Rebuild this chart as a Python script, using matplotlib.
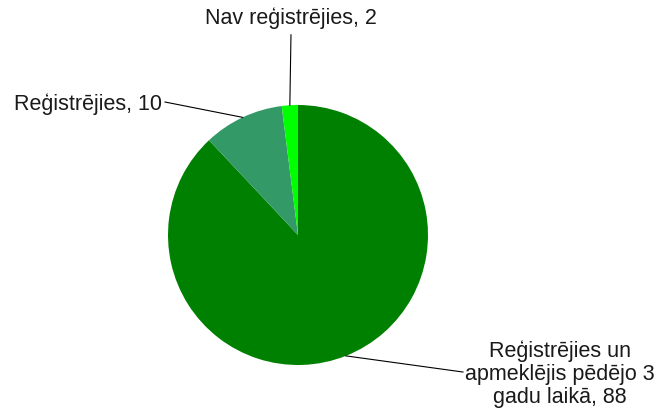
import numpy as np
import matplotlib.pyplot as plt

plt.rcParams['font.family'] = ['Liberation Sans', 'DejaVu Sans']

kategorijas = ['Reģistrējies un\napmeklējis pēdējo 3\ngadu laikā', 'Reģistrējies', 'Nav reģistrējies']
vertibas = [88, 10, 2]
krasas = ['#008000', '#339966', '#00FF00']

fig = plt.figure(figsize=(6.59, 4.16), dpi=100)
ax = fig.add_axes([168 / 659, 51 / 416, 260 / 659, 260 / 416])

wedges, _ = ax.pie(vertibas, colors=krasas, startangle=90, counterclock=False,
                   radius=1, wedgeprops=dict(linewidth=0))
ax.set_xlim(-1, 1)
ax.set_ylim(-1, 1)
ax.set_aspect('equal')
ax.axis('off')

# līniju gali un tekstu novietojums (datu vienībās)
linijas_gals = [(1.269, -1.054), (-1.023, 1.023), (-0.054, 1.54)]
teksta_vieta = [(2.015, -1.07), (-1.046, 1.008), (-0.054, 1.669)]
izlidzinasana = [('center', 'center'), ('right', 'center'), ('center', 'center')]

for w, nos, v, gals, tv, (ha, va) in zip(wedges, kategorijas, vertibas,
                                         linijas_gals, teksta_vieta, izlidzinasana):
    ang = np.deg2rad((w.theta1 + w.theta2) / 2)
    x, y = np.cos(ang), np.sin(ang)
    ax.plot([x, gals[0]], [y, gals[1]], color='black', lw=0.8, clip_on=False)
    ax.text(tv[0], tv[1], f'{nos}, {v}', ha=ha, va=va, multialignment='center',
            fontsize=15.5, color='#1a1a1a', clip_on=False, linespacing=1.13)

fig.savefig('out.png', dpi=100)
